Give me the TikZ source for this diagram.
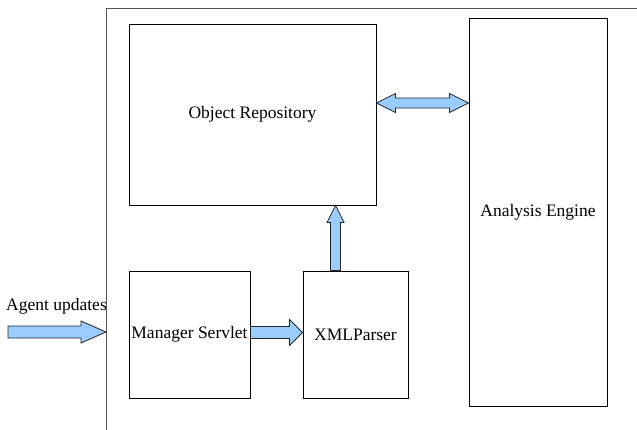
\documentclass[tikz,border=0pt]{standalone}
\usepackage{fontspec}
\setmainfont{Liberation Serif}
\usetikzlibrary{calc}
\definecolor{arrowfill}{HTML}{99CCFF}
\definecolor{framegray}{HTML}{555555}
\tikzset{
  lbl/.style={font=\fontsize{17.5}{20}\selectfont},
  box/.style={draw=black, line width=0.9pt, fill=white, inner sep=0pt, lbl},
  fat/.style={draw=black!85, line width=0.8pt, fill=arrowfill, line join=miter},
}
\begin{document}
\begin{tikzpicture}[x=1pt, y=-1pt]
  \useasboundingbox (0,0) rectangle (637,429);
  \clip (0,0) rectangle (637,429);

  % outer system frame (runs past the right and bottom edges)
  \node[draw=framegray, line width=1.3pt, minimum width=640pt, minimum height=470pt,
        inner sep=0pt, anchor=north west] (frame) at (106,8) {};

  % components
  \node[box, minimum width=247pt, minimum height=181pt] (or) at (252.5,114.5) {Object Repository};
  \node[box, minimum width=138pt, minimum height=388pt] (ae) at (538,212) {Analysis Engine};
  \node[box, minimum width=121pt, minimum height=127pt] (ms) at (189.5,334.5) {Manager Servlet};
  \node[box, minimum width=105pt, minimum height=127pt] (xp) at (355.5,334.5) {XMLParser};

  % incoming updates
  \coordinate (src) at (8,332);
  \node[anchor=base west, inner sep=0pt, lbl] (agent) at (6,310) {Agent updates};
  \draw[fat] let \p1=(src), \p2=(frame.west |- src) in
    (\x1,\y1-6) -- (\x2-25,\y1-6) -- (\x2-25,\y1-11) -- (\x2,\y1)
    -- (\x2-25,\y1+11) -- (\x2-25,\y1+6) -- (\x1,\y1+6) -- cycle;

  % Manager Servlet -> XMLParser
  \draw[fat] let \p1=($(ms.east)+(0,-2)$), \p2=(xp.west |- \p1) in
    (\x1,\y1-6) -- (\x2-13,\y1-6) -- (\x2-13,\y1-13) -- (\x2,\y1)
    -- (\x2-13,\y1+13) -- (\x2-13,\y1+6) -- (\x1,\y1+6) -- cycle;

  % XMLParser -> Object Repository (let values are in upward page units)
  \draw[fat] let \p1=($(xp.north west)+(33,0)$), \p2=(or.south -| \p1) in
    (\x1-5,\y1) -- (\x1-5,\y2-17) -- (\x1-8.5,\y2-17) -- (\x1,\y2)
    -- (\x1+8.5,\y2-17) -- (\x1+5,\y2-17) -- (\x1+5,\y1) -- cycle;

  % Object Repository <-> Analysis Engine
  \draw[fat] let \p1=($(or.east)+(0,-11.5)$), \p2=(ae.west |- \p1) in
    (\x1,\y1) -- (\x1+19,\y1-9.5) -- (\x1+19,\y1-5) -- (\x2-19,\y1-5)
    -- (\x2-19,\y1-9.5) -- (\x2,\y1) -- (\x2-19,\y1+9.5) -- (\x2-19,\y1+5)
    -- (\x1+19,\y1+5) -- (\x1+19,\y1+9.5) -- cycle;
\end{tikzpicture}
\end{document}
